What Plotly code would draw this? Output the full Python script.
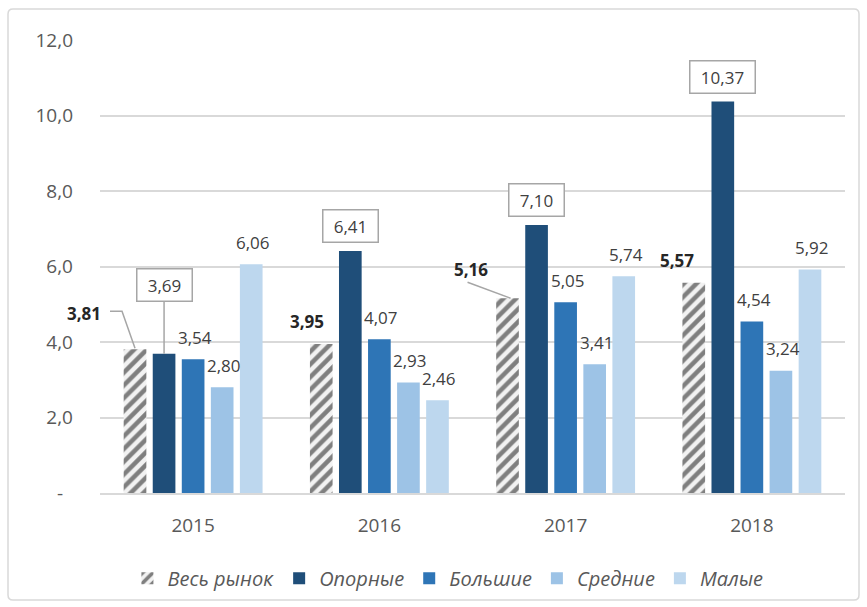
import plotly.graph_objects as go

# ---- data ----
years = ["2015", "2016", "2017", "2018"]
series_names = ["Весь рынок", "Опорные", "Большие", "Средние", "Малые"]
market = [3.81, 3.95, 5.16, 5.57]
opornye = [3.69, 6.41, 7.10, 10.37]
bolshie = [3.54, 4.07, 5.05, 4.54]
srednie = [2.80, 2.93, 3.41, 3.24]
malye = [6.06, 2.46, 5.74, 5.92]
y_ticks = [0, 2, 4, 6, 8, 10, 12]
y_ticktext = ["-\u00a0\u00a0", "2,0", "4,0", "6,0", "8,0", "10,0", "12,0"]

# ---- styles ----
colors = ["#f2f2f2", "#1f4e79", "#2e75b6", "#9dc3e6", "#bdd7ee"]
FONT = "Open Sans"
TXT = "#404040"
LEADER = "#a6a6a6"
BARGAP = 0.22
SLOT = (1 - BARGAP) / 5

def fmt(v):
    return f"{v:.2f}".replace(".", ",")

def slot_x(cat_idx, s_idx):
    return cat_idx + (s_idx - 2) * SLOT

all_series = [market, opornye, bolshie, srednie, malye]

fig = go.Figure()
for i, (name, vals) in enumerate(zip(series_names, all_series)):
    marker = dict(color=colors[i], line=dict(width=0))
    if i == 0:
        marker["pattern"] = dict(shape="/", fgcolor="#7f7f7f", bgcolor="#f2f2f2",
                                 size=9, solidity=0.5, fillmode="replace")
    fig.add_trace(go.Bar(name=name, x=years, y=vals, marker=marker, hoverinfo="skip"))

ann = []
shapes = []
# market labels (bold, left of bar); leader paths in pixel offsets from bar top
market_off = [(-51, 36), (-14, 22), (-37, 29), (-17, 22)]
market_leader = ["M -25,38 L -13,38 L 0,1", None, "M -40,16 L 3,0", None]
for j, v in enumerate(market):
    dx, dy = market_off[j]
    ann.append(dict(x=slot_x(j, 0), y=v, xref="x", yref="y", text=f"<b>{fmt(v)}</b>",
                    showarrow=False, xshift=dx, yshift=dy,
                    font=dict(family=FONT, size=17, color="#262626")))
    if market_leader[j]:
        shapes.append(dict(type="path", xref="x", yref="y", xsizemode="pixel", ysizemode="pixel",
                           xanchor=slot_x(j, 0), yanchor=v, path=market_leader[j],
                           line=dict(color=LEADER, width=1.5)))

# opornye labels (boxed)
op_dy = [-69, -25, -25, -25]
op_w = [50, 50, 50, 60]
for j, v in enumerate(opornye):
    a = dict(x=slot_x(j, 1), y=v, xref="x", yref="y", text=fmt(v),
             font=dict(family=FONT, size=17, color=TXT),
             bordercolor=LEADER, borderwidth=1.5, borderpad=2, bgcolor="white",
             width=op_w[j], height=27)
    if j == 0:
        a.update(showarrow=True, ax=0, ay=op_dy[j], arrowhead=0, arrowwidth=1.5,
                 arrowcolor=LEADER, standoff=0)
    else:
        a.update(showarrow=False, yshift=-op_dy[j])
    ann.append(a)

# plain labels
for s_idx, vals in [(2, bolshie), (3, srednie), (4, malye)]:
    for j, v in enumerate(vals):
        ann.append(dict(x=slot_x(j, s_idx), y=v, xref="x", yref="y", text=fmt(v),
                        showarrow=False, yshift=22, xshift=2,
                        font=dict(family=FONT, size=17, color=TXT)))

# outer border (rounded)
L, R, T, B = 100, 845, 40, 493
def px(xp):
    return (xp - L) / (R - L)
def py(yp):
    return (B - yp) / (B - T)
x0, x1, y0, y1, r = 8, 859, 9, 600, 5
path = (f"M {px(x0 + r)},{py(y0)} L {px(x1 - r)},{py(y0)} Q {px(x1)},{py(y0)} {px(x1)},{py(y0 + r)} "
        f"L {px(x1)},{py(y1 - r)} Q {px(x1)},{py(y1)} {px(x1 - r)},{py(y1)} "
        f"L {px(x0 + r)},{py(y1)} Q {px(x0)},{py(y1)} {px(x0)},{py(y1 - r)} "
        f"L {px(x0)},{py(y0 + r)} Q {px(x0)},{py(y0)} {px(x0 + r)},{py(y0)} Z")
shapes.append(dict(type="path", path=path, xref="paper", yref="paper",
                   line=dict(color="#d9d9d9", width=1.5), layer="below"))

fig.update_layout(
    width=867, height=607,
    margin=dict(l=L, r=867 - R, t=T, b=607 - B, autoexpand=False),
    paper_bgcolor="white", plot_bgcolor="white",
    barmode="group", bargap=BARGAP, bargroupgap=0.22,
    font=dict(family=FONT, color="#595959"),
    annotations=ann,
    shapes=shapes,
    legend=dict(orientation="h", x=0.467, xanchor="center", y=-0.188, yanchor="middle",
                font=dict(family=FONT, size=20, color="#595959", style="italic"),
                traceorder="normal", itemwidth=30),
    showlegend=True,
)
fig.update_xaxes(type="category", range=[-0.5, 3.5], automargin=False,
                 showline=True, linecolor="#d9d9d9", linewidth=1.5,
                 ticks="", tickfont=dict(family=FONT, size=19, color="#595959"),
                 ticklabelstandoff=14)
fig.update_yaxes(range=[0, 12], tickvals=y_ticks, ticktext=y_ticktext, automargin=False,
                 showgrid=True, gridcolor="#d9d9d9", gridwidth=1.5, zeroline=False,
                 ticks="", tickfont=dict(family=FONT, size=19, color="#595959"),
                 ticklabelstandoff=26)

fig.write_html("out.html")
